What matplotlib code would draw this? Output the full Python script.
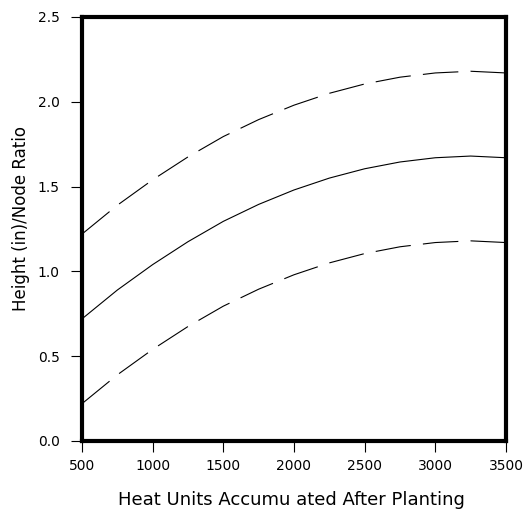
import matplotlib
matplotlib.use("Agg")
import matplotlib.pyplot as plt

heat_units = [500, 750, 1000, 1250, 1500, 1750, 2000, 2250, 2500, 2750, 3000, 3250, 3500]
ratio_mid = [0.72, 0.89, 1.04, 1.175, 1.295, 1.395, 1.48, 1.55, 1.605, 1.645, 1.67, 1.68, 1.67]
ratio_upper = [1.22, 1.39, 1.54, 1.675, 1.795, 1.895, 1.98, 2.05, 2.105, 2.145, 2.17, 2.18, 2.17]
ratio_lower = [0.22, 0.39, 0.54, 0.675, 0.795, 0.895, 0.98, 1.05, 1.105, 1.145, 1.17, 1.18, 1.17]
x_ticks = [500, 1000, 1500, 2000, 2500, 3000, 3500]
y_ticks = [0.0, 0.5, 1.0, 1.5, 2.0, 2.5]

plt.rcParams['font.family'] = ['DejaVu Sans']

fig = plt.figure(figsize=(5.24, 5.13), dpi=100)
ax = fig.add_axes([0.1565, 0.1404, 0.8091, 0.8265])

ax.plot(heat_units, ratio_mid, color='black', lw=0.8, solid_capstyle='butt')
for ys in (ratio_upper, ratio_lower):
    ln, = ax.plot(heat_units, ys, color='black', lw=0.8)
    ln.set_dashes([32, 11])

ax.set_xlim(500, 3500)
ax.set_ylim(0, 2.5)
ax.set_xticks(x_ticks)
ax.set_xticklabels([str(v) for v in x_ticks])
ax.set_yticks(y_ticks)
ax.set_yticklabels([f"{v:.1f}" for v in y_ticks])

for s in ax.spines.values():
    s.set_linewidth(3.0)
ax.tick_params(axis='both', direction='out', length=8, width=0.8, labelsize=10, color='black')
ax.tick_params(axis='x', pad=5)
ax.tick_params(axis='y', pad=8)

ax.set_xlabel("Heat Units Accumu ated After Planting", fontsize=13, va='center')
ax.set_ylabel("Height (in)/Node Ratio", fontsize=12, va='center')
ax.xaxis.set_label_coords(0.494, -0.139)
ax.yaxis.set_label_coords(-0.144, 0.524)

fig.savefig("out.png", dpi=100)
